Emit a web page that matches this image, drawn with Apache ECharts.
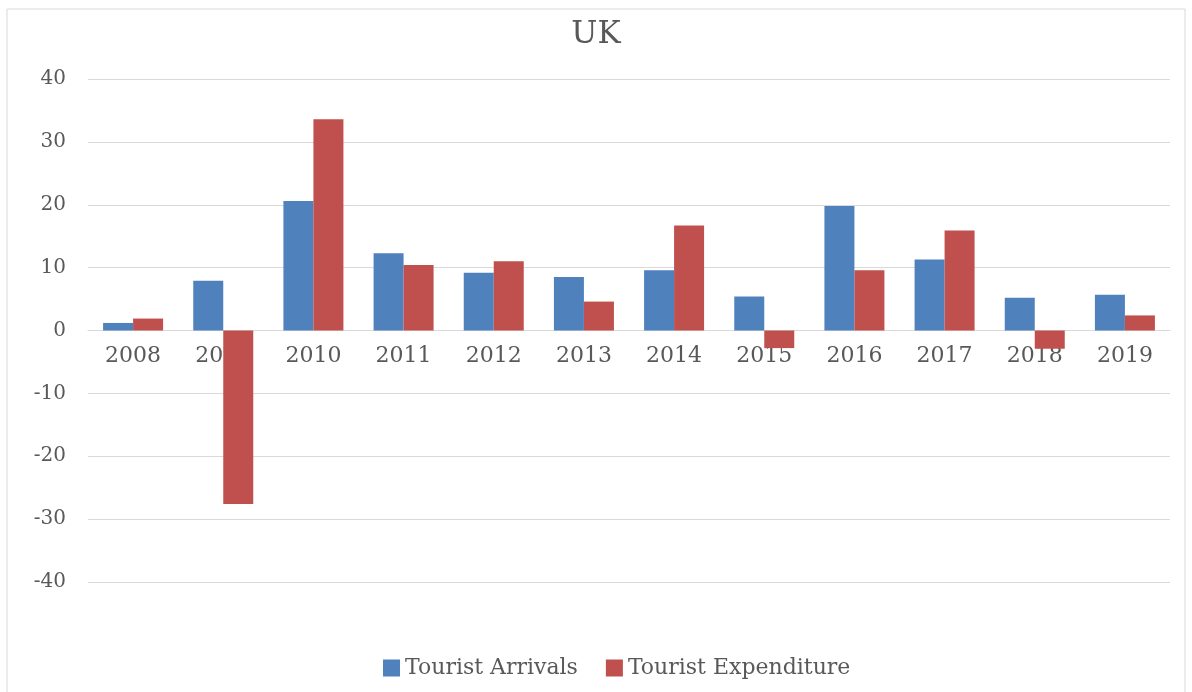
<!DOCTYPE html>
<html>
<head>
<meta charset="utf-8">
<script src="https://cdn.jsdelivr.net/npm/echarts@6/dist/echarts.min.js"></script>
<style>
  html, body { margin: 0; padding: 0; background: #fff; }
  #chart { width: 1192px; height: 692px; }
</style>
</head>
<body>
<div id="chart"></div>
<script>
const years = ['2008', '2009', '2010', '2011', '2012', '2013', '2014', '2015', '2016', '2017', '2018', '2019'];
const arrivals = [1.2, 7.9, 20.6, 12.3, 9.2, 8.5, 9.6, 5.4, 19.8, 11.3, 5.2, 5.7];
const expenditure = [1.9, -27.6, 33.6, 10.4, 11.0, 4.6, 16.7, -2.8, 9.6, 15.9, -2.9, 2.4];
const yTicks = { min: -40, max: 40, interval: 10 };

const font = '"DejaVu Serif", "Liberation Serif", serif';
const textColor = '#595959';

// grid geometry, used to lift the category axis onto the zero line
const gridTop = 79, gridBottom = 110, chartH = 692;
const plotH = chartH - gridTop - gridBottom;
const zeroLift = plotH * (0 - yTicks.min) / (yTicks.max - yTicks.min);

const chart = echarts.init(document.getElementById('chart'), null, { renderer: 'canvas' });
chart.setOption({
  animation: false,
  backgroundColor: '#fff',
  title: {
    text: 'UK',
    left: 'center',
    top: 14,
    textStyle: { fontFamily: font, fontSize: 31, fontWeight: 'normal', color: textColor }
  },
  graphic: [{
    type: 'rect',
    shape: { x: 7, y: 9, width: 1178, height: 700 },
    style: { fill: 'none', stroke: '#d9d9d9', lineWidth: 1 },
    silent: true
  }],
  legend: {
    data: ['Tourist Arrivals', 'Tourist Expenditure'],
    left: 378,
    top: 652,
    itemWidth: 17,
    itemHeight: 17,
    itemGap: 28,
    icon: 'rect',
    textStyle: { fontFamily: font, fontSize: 22, color: textColor }
  },
  grid: { left: 88, right: 22, top: gridTop, bottom: gridBottom, containLabel: false },
  xAxis: {
    type: 'category',
    data: years,
    offset: -zeroLift,
    axisLine: { onZero: false, lineStyle: { color: '#d9d9d9', width: 1 } },
    axisTick: { show: false },
    axisLabel: { margin: 15, fontFamily: font, fontSize: 22, color: textColor }
  },
  yAxis: {
    type: 'value',
    min: yTicks.min,
    max: yTicks.max,
    interval: yTicks.interval,
    axisLine: { show: false },
    axisTick: { show: false },
    splitLine: { lineStyle: { color: '#d9d9d9', width: 1 } },
    axisLabel: { margin: 22, fontFamily: font, fontSize: 20, color: textColor }
  },
  series: [
    {
      name: 'Tourist Arrivals',
      type: 'bar',
      data: arrivals,
      barWidth: 30,
      barGap: '0%',
      itemStyle: { color: '#4f81bd' }
    },
    {
      name: 'Tourist Expenditure',
      type: 'bar',
      data: expenditure,
      barWidth: 30,
      barGap: '0%',
      itemStyle: { color: '#c0504d' }
    }
  ]
});
</script>
</body>
</html>
